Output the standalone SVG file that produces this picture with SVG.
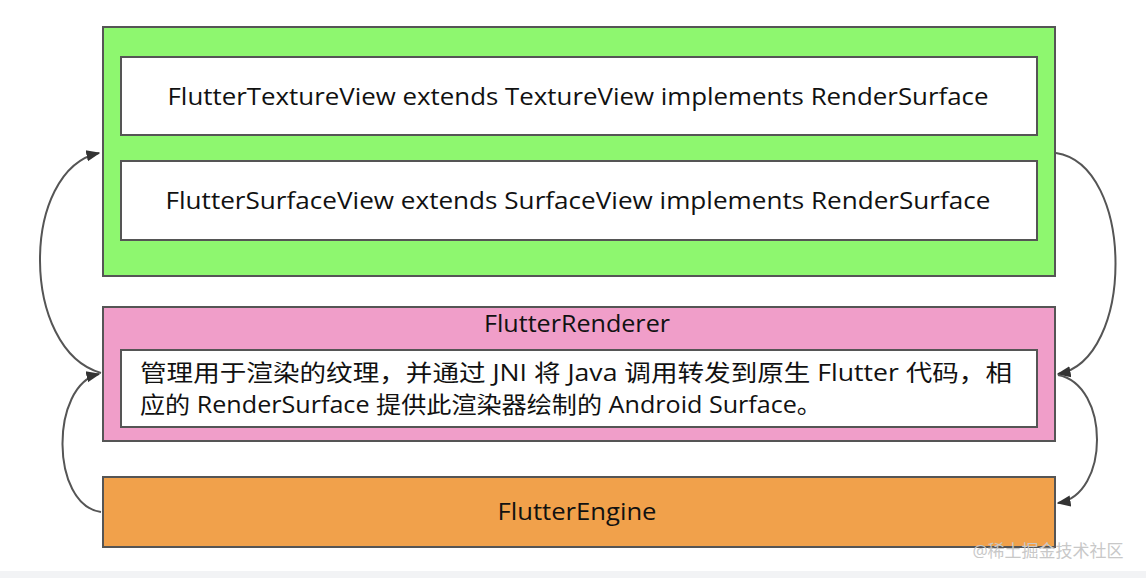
<svg xmlns="http://www.w3.org/2000/svg" width="1146" height="578" viewBox="0 0 1146 578">
<style>
.box{stroke:#555;stroke-width:2}
.in{fill:#fff;stroke:#555;stroke-width:2}
text{font-family:"Open Sans","Liberation Sans","Noto Sans CJK SC",sans-serif;font-size:23px;fill:#111;text-anchor:middle}
.c{fill:none;stroke:#555;stroke-width:2}
</style>
<defs>
<marker id="b" viewBox="0 0 10 10" refX="9" refY="5" markerWidth="14" markerHeight="14" markerUnits="userSpaceOnUse" orient="auto"><path d="M0,1L10,5L0,9z" fill="#333"/></marker></defs>
<rect x="0" y="571" width="1146" height="7" fill="#f2f3f5"/>
<g id="renderSurface">
<rect class="box" x="103" y="27" width="952" height="249" fill="#8ef76f"/>
<rect class="in" x="121" y="57" width="916" height="78"/>
<text x="578" y="105" textLength="821" lengthAdjust="spacingAndGlyphs">FlutterTextureView extends TextureView implements RenderSurface</text>
<rect class="in" x="121" y="161" width="916" height="79"/>
<text x="578" y="209" textLength="825" lengthAdjust="spacingAndGlyphs">FlutterSurfaceView extends SurfaceView implements RenderSurface</text>
</g>
<g id="renderer">
<rect class="box" x="103" y="307" width="952" height="134" fill="#f09ec9"/>
<text x="577" y="332" textLength="186" lengthAdjust="spacingAndGlyphs">FlutterRenderer</text>
<rect class="in" x="121" y="350" width="916" height="77"/>
<text x="140" y="381" style="text-anchor:start" textLength="872" lengthAdjust="spacingAndGlyphs">管理用于渲染的纹理，并通过 JNI 将 Java 调用转发到原生 Flutter 代码，相</text>
<text x="140" y="413" style="text-anchor:start" textLength="682" lengthAdjust="spacingAndGlyphs">应的 RenderSurface 提供此渲染器绘制的 Android Surface。</text>
</g>
<g id="engine">
<rect class="box" x="103" y="477" width="952" height="70" fill="#f1a14b"/>
<text x="577" y="520" textLength="159" lengthAdjust="spacingAndGlyphs">FlutterEngine</text>
</g>
<g id="connectors">
<path class="c" marker-end="url(#b)" d="M101,373 C20,350 20,170 99,153"/>
<path class="c" marker-end="url(#b)" d="M101,512 C50,505 50,385 99,374"/>
<path class="c" marker-end="url(#b)" d="M1056,153 C1135,165 1135,360 1058,374"/>
<path class="c" marker-end="url(#b)" d="M1058,375 C1110,385 1110,495 1058,503"/>
</g>
<text x="1048" y="557" style="font-size:17px;fill:#c8c8c8">@稀土掘金技术社区</text>
</svg>
